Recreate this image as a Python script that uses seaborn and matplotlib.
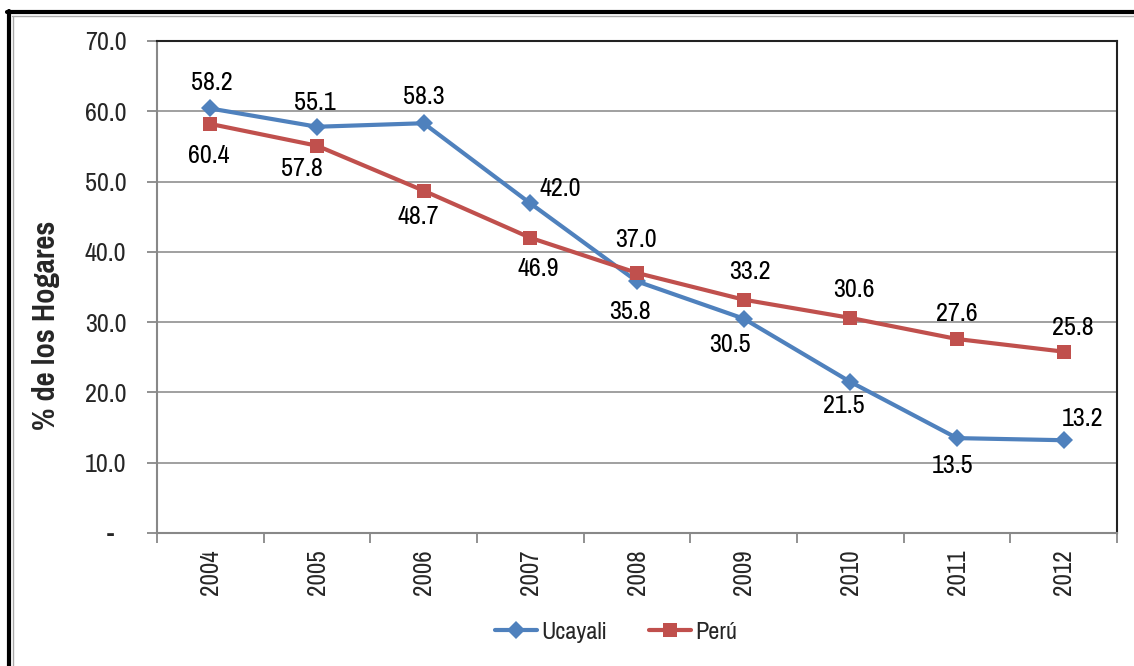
import numpy as np
import pandas as pd
import matplotlib
matplotlib.use("Agg")
import matplotlib.pyplot as plt
from matplotlib.lines import Line2D
from matplotlib.ticker import FixedLocator, FuncFormatter
import seaborn as sns

years = ["2004", "2005", "2006", "2007", "2008", "2009", "2010", "2011", "2012"]
ucayali = [60.4, 57.8, 58.3, 46.9, 35.8, 30.5, 21.5, 13.5, 13.2]
peru = [58.2, 55.1, 48.7, 42.0, 37.0, 33.2, 30.6, 27.6, 25.8]

# data labels as printed in the original chart, next to each marker
ucayali_labels = ["58.2", "55.1", "58.3", "42.0", "35.8", "30.5", "21.5", "13.5", "13.2"]
peru_labels = ["60.4", "57.8", "48.7", "46.9", "37.0", "33.2", "30.6", "27.6", "25.8"]

# label offsets in pixels (dx, dy), dy positive = up
ucayali_off = [(1, 26), (-2, 24), (0, 27), (30, 15), (-7, -30), (-14, -26), (-7, -24), (-4, -27), (19, 22)]
peru_off = [(-2, -32), (-15, -23), (-5, -26), (8, -31), (-1, 33), (6, 28), (4, 28), (0, 26), (9, 24)]

blue = "#4F81BD"
red = "#C0504D"

sns.set_theme(style="white")
plt.rcParams["font.family"] = ["Pragati Narrow", "Archivo Narrow", "Liberation Sans", "DejaVu Sans"]

df = pd.DataFrame({
    "pos": list(range(len(years))) * 2,
    "valor": ucayali + peru,
    "serie": ["Ucayali"] * len(years) + ["Perú"] * len(years),
})

fig = plt.figure(figsize=(11.34, 6.66), dpi=100)
ax = fig.add_axes([157 / 1134, 1 - 533 / 666, 960 / 1134, 492 / 666])

sns.lineplot(data=df, x="pos", y="valor", hue="serie", style="serie",
             palette={"Ucayali": blue, "Perú": red},
             markers={"Ucayali": "D", "Perú": "s"}, dashes=False,
             linewidth=3, ax=ax, legend=False)
for ln, ms in zip(ax.lines, [9, 10]):
    ln.set_markersize(ms)
    ln.set_markeredgewidth(0)

for i in range(len(years)):
    ax.annotate(ucayali_labels[i], (i, ucayali[i]), xytext=ucayali_off[i],
                textcoords="offset pixels", ha="center", va="center", fontsize=20.5, color="black")
    ax.annotate(peru_labels[i], (i, peru[i]), xytext=peru_off[i],
                textcoords="offset pixels", ha="center", va="center", fontsize=20.5, color="black")

ax.set_xlim(-0.5, len(years) - 0.5)
ax.set_ylim(0, 70)
ax.set_yticks(np.arange(0, 71, 10))
ax.yaxis.set_major_formatter(FuncFormatter(lambda v, p: "-  " if v == 0 else f"{v:.1f}"))
ax.set_xticks(range(len(years)))
ax.set_xticklabels(years, rotation=90)
ax.xaxis.set_minor_locator(FixedLocator(np.arange(-0.5, len(years), 1)))
ax.tick_params(axis="x", which="major", length=0, labelsize=19.5, pad=12)
ax.tick_params(axis="x", which="minor", length=7, width=1.3, color="#888888", direction="out", bottom=True)
ax.tick_params(axis="y", length=7, width=1.3, color="#888888", direction="out", left=True,
               labelsize=20.5, pad=15)
ax.grid(axis="y", color="#999999", linewidth=1.3)
ax.set_axisbelow(True)
ax.set_xlabel("")
ax.set_ylabel("")

for side in ["left", "bottom"]:
    ax.spines[side].set_color("#888888")
    ax.spines[side].set_linewidth(1.5)
for side in ["top", "right"]:
    ax.spines[side].set_color("#222222")
    ax.spines[side].set_linewidth(1.5)

fig.text(46 / 1134, 1 - 325 / 666, "% de los Hogares", rotation=90, ha="center", va="center",
         fontsize=24, fontweight="bold")

handles = [
    Line2D([], [], color=blue, marker="D", markersize=9, markeredgewidth=0, linewidth=3),
    Line2D([], [], color=red, marker="s", markersize=10, markeredgewidth=0, linewidth=3),
]
fig.legend(handles, ["Ucayali", "Perú"], loc="center", bbox_to_anchor=(616 / 1134, 1 - 632 / 666),
           ncol=2, frameon=False, fontsize=19, handlelength=1.6, handletextpad=0.15, columnspacing=1.6)

# outer frame
fig.add_artist(Line2D([8.5 / 1134, 8.5 / 1134], [0, 1 - 11 / 666], color="black", linewidth=3,
                      transform=fig.transFigure))
fig.add_artist(Line2D([7 / 1134, 1], [1 - 11.5 / 666, 1 - 11.5 / 666], color="black", linewidth=3,
                      transform=fig.transFigure))
fig.add_artist(Line2D([12.5 / 1134, 12.5 / 1134], [0, 1 - 15.5 / 666], color="#aaaaaa", linewidth=1,
                      transform=fig.transFigure))
fig.add_artist(Line2D([12 / 1134, 1], [1 - 15.5 / 666, 1 - 15.5 / 666], color="#aaaaaa", linewidth=1,
                      transform=fig.transFigure))

fig.savefig("out.png", dpi=100)
